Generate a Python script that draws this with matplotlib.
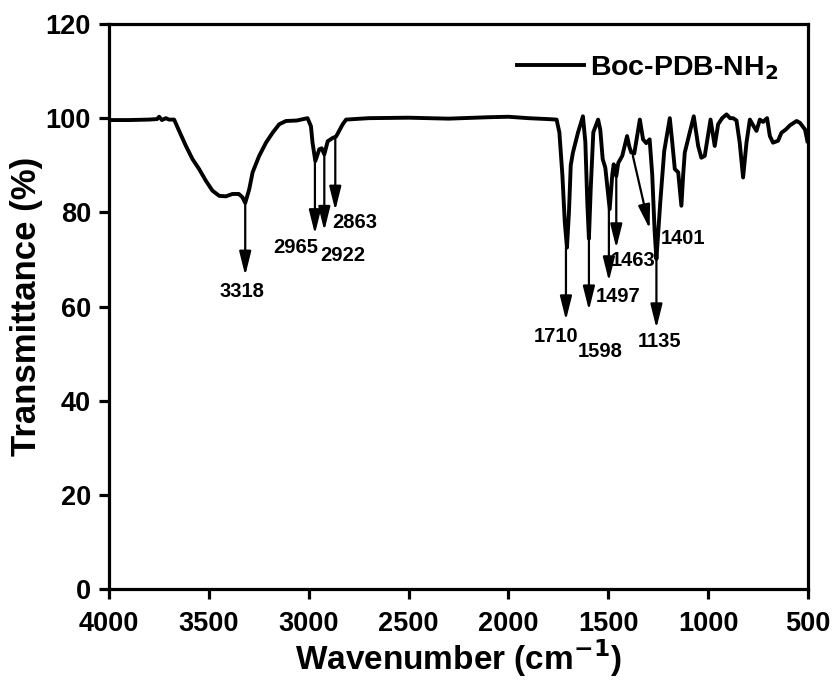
import matplotlib
matplotlib.use("Agg")
import matplotlib.pyplot as plt

plt.rcParams["font.family"] = ["Liberation Sans", "DejaVu Sans"]
plt.rcParams["font.weight"] = "bold"
plt.rcParams["mathtext.default"] = "bf"

# spectrum (cm-1, %T)
wavenumber = [
  4000, 3900, 3800, 3760, 3749, 3735, 3715, 3700, 3674, 3649, 3615, 3582,
  3549, 3515, 3482, 3448, 3415, 3382, 3350, 3332, 3318, 3298, 3281, 3248,
  3214, 3181, 3148, 3114, 3060, 3006, 2989, 2981, 2967, 2947, 2935, 2922,
  2905, 2880, 2863, 2830, 2813, 2700, 2500, 2300, 2100, 2000, 1900, 1800,
  1759, 1745, 1730, 1718, 1707, 1697, 1688, 1677, 1652, 1627, 1615, 1605,
  1597, 1588, 1575, 1551, 1540, 1528, 1515, 1493, 1480, 1473, 1460, 1450,
  1430, 1406, 1395, 1385, 1370, 1342, 1326, 1310, 1293, 1280, 1268, 1259,
  1240, 1220, 1192, 1180, 1167, 1150, 1134, 1125, 1117, 1092, 1072, 1050,
  1034, 1017, 988, 967, 950, 930, 908, 890, 875, 858, 842, 825, 808, 791,
  775, 758, 741, 725, 705, 691, 675, 650, 633, 611, 590, 557, 540, 515, 503,
]
transmittance = [
  99.6, 99.6, 99.7, 99.8, 100.3, 99.6, 100.0, 99.7, 99.7, 97.3, 94.1, 91.3,
  89.2, 86.7, 84.6, 83.5, 83.4, 83.9, 83.9, 83.2, 82.0, 84.9, 88.5, 92.0,
  94.8, 96.9, 98.7, 99.4, 99.5, 100.0, 98.3, 94.8, 90.9, 93.4, 93.6, 92.3,
  95.1, 95.8, 96.1, 98.7, 99.7, 100.0, 100.1, 99.9, 100.2, 100.3, 100.0, 99.8,
  99.7, 97.0, 88.0, 78.0, 72.5, 80.0, 90.0, 92.7, 96.9, 100.4, 95.0, 82.0,
  74.4, 85.0, 97.0, 99.7, 97.5, 91.3, 89.5, 80.7, 88.0, 90.2, 87.7, 90.5,
  92.0, 96.2, 94.0, 92.7, 92.5, 99.7, 95.5, 94.7, 95.5, 88.0, 76.0, 70.1,
  82.0, 93.0, 100.0, 95.0, 89.2, 88.5, 81.4, 88.0, 92.7, 97.0, 100.4, 94.1,
  91.6, 92.0, 99.7, 94.1, 98.7, 100.0, 100.8, 100.0, 100.0, 99.5, 94.8, 87.4, 94.8, 99.7,
  98.5, 97.3, 99.7, 99.2, 100.0, 96.2, 94.8, 95.2, 96.9, 97.6, 98.5, 99.4, 99.0, 97.6, 95.1,
]

# peak labels and their arrows: tail (x, y), head (x, y), label (x, y)
peak_labels = ["3318", "2965", "2922", "2863", "1710", "1598", "1497", "1463", "1401", "1135"]
arrow_tail = [(3318, 82.0), (2969, 90.9), (2922, 92.3), (2867, 96.1), (1712, 72.5),
              (1597, 74.4), (1497, 80.7), (1460, 87.7), (1377, 92.0), (1259, 70.1)]
arrow_head = [(3318, 66.6), (2969, 75.4), (2922, 76.1), (2867, 80.4), (1712, 57.1),
              (1597, 59.2), (1497, 65.4), (1460, 72.4), (1293, 76.5), (1259, 55.4)]
label_pos = [(3333, 63.2), (3064, 72.6), (2830, 70.8), (2771, 77.9), (1760, 53.6),
             (1543, 50.4), (1451, 62.1), (1376, 69.7), (1125, 74.4), (1242, 52.5)]

fig = plt.figure(figsize=(8.38, 6.84), dpi=100)
ax = fig.add_axes([0.1301, 0.1389, 0.8341, 0.8260])

ax.plot(wavenumber, transmittance, color="k", lw=2.8, label="Boc-PDB-NH$_2$",
        solid_joinstyle="round")

for lab, tail, head, pos in zip(peak_labels, arrow_tail, arrow_head, label_pos):
  ax.annotate("", xy=head, xytext=tail,
              arrowprops=dict(arrowstyle="-|>,head_length=1.45,head_width=0.36",
                              color="k", lw=1.6, shrinkA=0, shrinkB=0,
                              mutation_scale=10))
  ax.text(pos[0], pos[1], lab, ha="center", va="center", fontsize=14.5, fontweight="bold")

ax.set_xlim(4000, 500)
ax.set_ylim(0, 120)
ax.set_xticks([4000, 3500, 3000, 2500, 2000, 1500, 1000, 500])
ax.set_yticks([0, 20, 40, 60, 80, 100, 120])

for s in ax.spines.values():
  s.set_linewidth(2.3)
ax.tick_params(direction="out", length=7, width=2.3, labelsize=19.5)
ax.tick_params(axis="x", pad=9)
ax.tick_params(axis="y", pad=6)
for t in ax.get_xticklabels() + ax.get_yticklabels():
  t.set_fontweight("bold")

ax.set_xlabel("Wavenumber (cm$^{-1}$)", fontsize=24, fontweight="bold", labelpad=0)
ax.set_ylabel("Transmittance (%)", fontsize=25, fontweight="bold", labelpad=2)

leg = ax.legend(loc="upper right", frameon=False, fontsize=20.5, handlelength=2.35,
                borderaxespad=0.65, handletextpad=0.2, borderpad=0.4)
for t in leg.get_texts():
  t.set_fontweight("bold")

fig.savefig("out.png", dpi=100)
